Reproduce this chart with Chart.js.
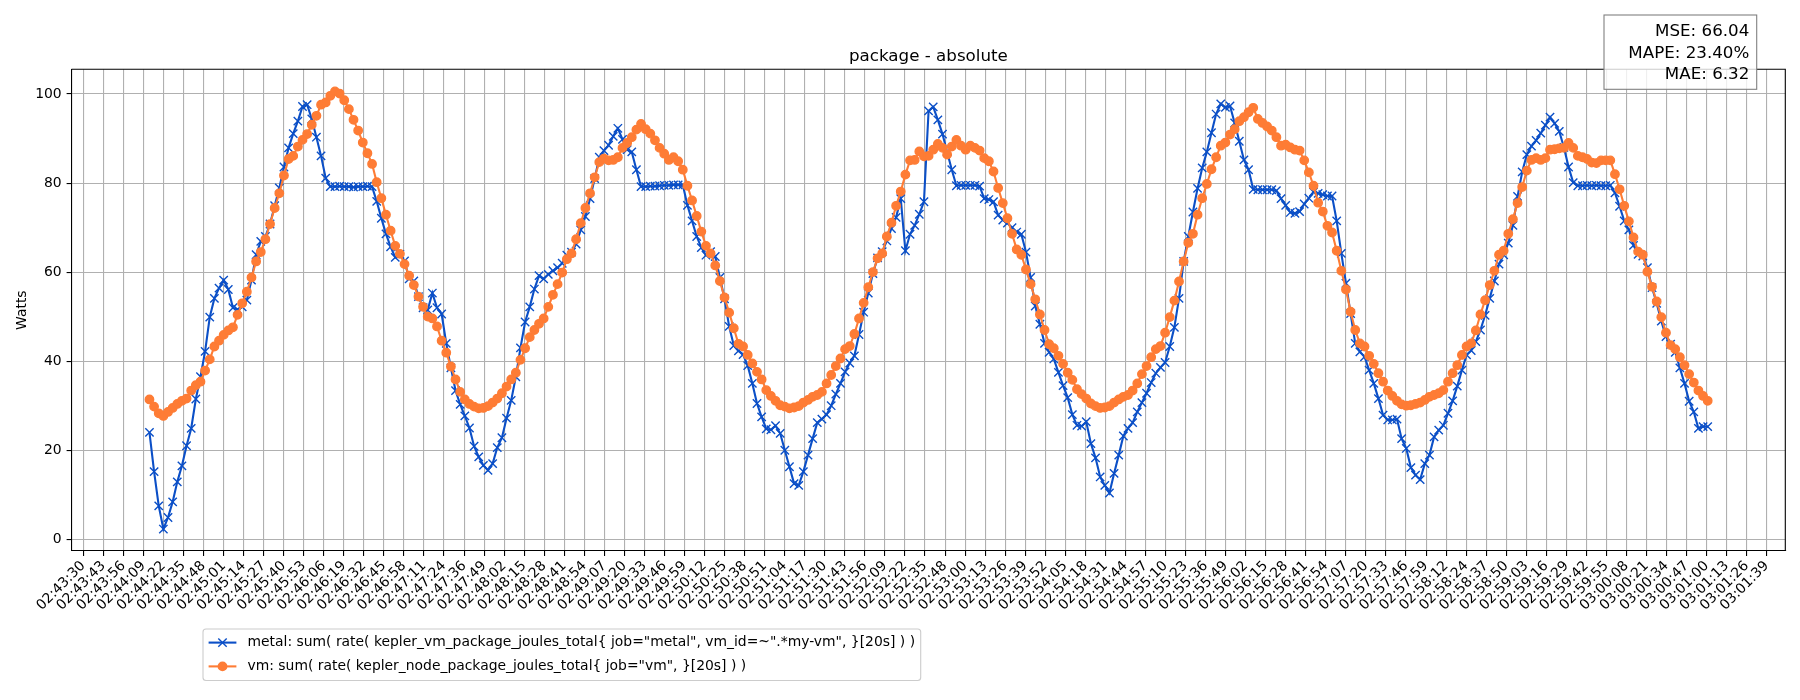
<!DOCTYPE html>
<html>
<head>
<meta charset="utf-8">
<title>package - absolute</title>
<script src="https://cdn.jsdelivr.net/npm/chart.js@4.4.1/dist/chart.umd.min.js"></script>
<style>
  html, body { margin: 0; padding: 0; background: #fff; }
  canvas { display: block; }
</style>
</head>
<body>
<canvas id="chart" width="1800" height="700" style="width:1800px;height:700px"></canvas>
<script>
// x tick labels (one tick every ~12.96 s starting at 02:43:30)
const tickLabels = [
  '02:43:30', '02:43:43', '02:43:56', '02:44:09', '02:44:22', '02:44:35', '02:44:48', '02:45:01',
  '02:45:14', '02:45:27', '02:45:40', '02:45:53', '02:46:06', '02:46:19', '02:46:32', '02:46:45',
  '02:46:58', '02:47:11', '02:47:24', '02:47:36', '02:47:49', '02:48:02', '02:48:15', '02:48:28',
  '02:48:41', '02:48:54', '02:49:07', '02:49:20', '02:49:33', '02:49:46', '02:49:59', '02:50:12',
  '02:50:25', '02:50:38', '02:50:51', '02:51:04', '02:51:17', '02:51:30', '02:51:43', '02:51:56',
  '02:52:09', '02:52:22', '02:52:35', '02:52:48', '02:53:00', '02:53:13', '02:53:26', '02:53:39',
  '02:53:52', '02:54:05', '02:54:18', '02:54:31', '02:54:44', '02:54:57', '02:55:10', '02:55:23',
  '02:55:36', '02:55:49', '02:56:02', '02:56:15', '02:56:28', '02:56:41', '02:56:54', '02:57:07',
  '02:57:20', '02:57:33', '02:57:46', '02:57:59', '02:58:12', '02:58:24', '02:58:37', '02:58:50',
  '02:59:03', '02:59:16', '02:59:29', '02:59:42', '02:59:55', '03:00:08', '03:00:21', '03:00:34',
  '03:00:47', '03:01:00', '03:01:13', '03:01:26', '03:01:39'
];
const tickSpanSec = 1089;          // 02:43:30 -> 03:01:39
const yTicks = [0, 20, 40, 60, 80, 100];

// samples: every 3 s, first one at 02:44:12.8
const sampleStartSec = 42.8;       // seconds after 02:43:30
const sampleStepSec = 3;

// metal: sum( rate( kepler_vm_package_joules_total ... ) )  [Watts]
const metalWatts = [
  24.0, 15.2, 7.5, 2.3, 4.9, 8.4, 12.9, 16.5, 21.0, 24.9, 31.5, 36.5, 42.2,
  49.9, 54.1, 56.4, 58.2, 56.1, 52.0, 51.6, 52.2,
  53.7, 58.2, 63.9, 66.9, 68.0, 70.8, 74.9, 78.9, 83.6, 87.9,
  91.1, 93.9, 97.2, 97.6, 94.4, 90.3, 86.1, 81.1,
  79.2, 79.2, 79.3, 79.2, 79.2, 79.1, 79.2, 79.2, 79.3, 79.2,
  75.9, 72.1, 68.6, 65.7, 63.3,
  64.0, 62.5, 58.5, 58.0, 54.5, 52.0, 51.5,
  55.3, 52.0, 50.6, 44.0, 38.5, 33.4, 30.3,
  27.7, 25.0, 20.9, 18.5, 16.6, 15.5, 17.0,
  20.6, 22.8, 27.2, 31.2, 36.5, 43.0,
  48.8, 52.2, 56.2, 59.2, 58.5, 59.5,
  60.3, 61.0, 62.0, 63.8, 64.5, 66.3, 69.5, 72.5, 76.5, 81.0,
  85.8, 87.3, 88.5, 90.5, 92.3, 89.8, 87.5, 87.0, 83.0, 79.2,
  79.2, 79.3, 79.3, 79.4, 79.5, 79.5, 79.6, 79.6, 79.6,
  75.0, 71.5, 68.0, 65.5, 63.8, 64.6, 63.5,
  58.8, 54.0, 47.8, 43.5, 42.3, 41.5, 39.0,
  35.0, 30.5, 27.5, 24.8, 24.6, 25.5, 23.8,
  20.0, 16.3, 12.5, 12.1, 15.2, 18.9, 22.6, 26.2,
  27.0, 28.0, 30.0, 32.6, 35.0, 37.6, 39.6, 41.2,
  46.0, 51.0, 55.3, 59.7, 63.2, 64.6, 67.0, 69.8, 72.3, 76.5,
  64.8, 68.5, 70.5, 73.0, 75.8,
  96.2, 97.1, 94.2, 91.0, 87.0, 83.0, 79.4,
  79.5, 79.5, 79.5, 79.5, 79.3, 76.5, 76.3, 75.8, 72.8,
  71.7, 71.0, 70.0, 69.0, 68.5, 64.5, 58.8, 52.4, 48.3, 44.0,
  42.0, 40.5, 37.5, 34.5, 31.8, 28.0, 25.6, 25.4, 26.4,
  21.5, 18.3, 14.0, 12.1, 10.4, 14.8, 18.9, 23.2,
  24.9, 26.2, 28.6, 30.7, 32.8, 35.2, 37.3, 38.6, 39.7,
  43.3, 47.6, 54.1, 62.4, 68.0, 73.5, 78.8, 83.4, 87.0, 91.3,
  95.5, 97.8, 97.0, 97.3, 93.5, 89.4, 85.2, 83.0,
  78.6, 78.5, 78.5, 78.5, 78.5, 78.3,
  76.5, 75.0, 73.4, 73.2, 73.6, 75.3, 76.6, 78.0, 77.7, 77.4, 77.1, 77.1,
  71.5, 64.2, 57.5, 50.7, 44.0, 42.1, 41.0,
  38.0, 35.0, 31.6, 27.9, 26.8, 26.8, 27.0,
  22.6, 20.4, 16.1, 14.4, 13.4, 17.0, 18.9, 23.0, 24.5, 25.6, 28.3,
  31.1, 34.4, 38.0, 41.4, 42.4, 44.4, 47.0, 50.3, 54.1, 58.0,
  61.8, 63.9, 66.5, 70.5, 77.0, 82.5, 86.4, 88.3, 89.6, 91.2,
  93.0, 94.8, 93.4, 91.6, 88.0, 83.6, 80.1, 79.4,
  79.4, 79.5, 79.4, 79.5, 79.4, 79.4, 79.5,
  77.8, 74.8, 71.5, 69.5, 66.0, 64.0, 63.6,
  61.0, 56.5, 53.0, 49.0, 45.5, 43.8, 42.0,
  38.5, 35.0, 31.0, 28.6, 24.9, 25.3, 25.3
];

// vm: sum( rate( kepler_node_package_joules_total ... ) )  [Watts]
const vmWatts = [
  31.4, 29.8, 28.3, 27.7, 28.6, 29.5, 30.4, 31.1, 31.6, 33.4,
  34.6, 35.4, 37.9, 40.4, 43.3, 44.6, 45.9, 46.9, 47.6, 50.4,
  53.0, 55.6, 58.8, 62.4, 64.5, 67.4, 70.8, 74.4, 77.7, 81.7,
  85.4, 86.1, 88.2, 89.7, 91.0, 93.1, 95.1, 97.6, 98.1, 99.6,
  100.6, 100.1, 98.6, 96.6, 94.2, 91.8, 89.1, 86.7, 84.3, 80.2,
  76.6, 72.9, 69.3, 65.9, 64.1, 61.8, 59.2, 57.1, 54.5, 52.2,
  50.0, 49.6, 47.8, 44.6, 41.9, 38.8, 35.9, 33.1, 31.4, 30.4,
  29.8, 29.4, 29.5, 29.9, 30.7, 31.6, 32.8, 34.3, 35.9, 37.4,
  40.3, 42.9, 45.4, 47.0, 48.4, 49.6, 52.2,
  54.9, 57.3, 59.9, 62.9, 64.2, 67.4, 71.0, 74.4, 77.7, 81.3,
  84.7, 85.5, 85.1, 85.2, 85.8, 87.9, 89.0, 90.3, 92.0, 93.3,
  92.1, 91.1, 89.6, 87.9, 86.6, 85.2, 85.8, 84.9, 83.0, 79.4,
  76.1, 72.6, 69.1, 65.9, 64.2, 61.5, 58.0, 54.3, 50.9, 47.4,
  43.9, 43.3, 41.4, 39.5, 37.6, 35.9, 33.5, 32.2, 31.1, 30.1,
  29.8, 29.4, 29.6, 29.9, 30.7, 31.3, 32.0, 32.4, 33.1, 35.0,
  36.9, 38.9, 40.6, 42.7, 43.4, 46.1, 49.6, 53.1, 56.6, 60.0,
  63.1, 64.2, 68.0, 71.1, 74.9, 78.1, 81.9, 85.1, 85.2, 87.1,
  86.0, 86.1, 87.5, 88.8, 87.9, 86.4, 88.2, 89.7, 88.4, 87.5,
  88.4, 87.9, 87.3, 85.6, 84.9, 82.6, 78.9,
  75.5, 72.1, 68.6, 65.1, 63.9, 60.6, 57.3, 53.9, 50.5, 47.0,
  43.8, 42.9, 41.2, 39.4, 37.4, 35.8, 33.7, 32.6, 31.6, 30.5,
  29.9, 29.5, 29.6, 29.9, 30.7, 31.4, 32.0, 32.4, 33.4, 35.0,
  37.1, 38.9, 40.9, 42.7, 43.4, 46.4, 49.9, 53.6, 57.9, 62.4,
  66.6, 68.6, 72.9, 76.6, 79.8, 83.1, 85.8, 88.4, 89.1, 90.9,
  92.1, 93.9, 94.8, 95.9, 96.9, 94.4, 93.5, 92.7, 91.8, 90.3,
  88.4, 88.6, 88.0, 87.5, 87.3, 85.1, 82.4, 79.4, 75.6, 73.6,
  70.4, 68.9, 64.8, 60.3, 56.1, 51.1, 47.0, 44.0, 43.3, 41.2,
  39.4, 37.3, 35.4, 33.4, 32.2, 31.1, 30.3, 30.0, 30.1, 30.4,
  30.7, 31.3, 32.0, 32.4, 32.8, 33.5, 35.4,
  37.3, 39.1, 41.4, 43.3, 44.0, 46.9, 50.5, 53.7, 57.1, 60.3,
  63.9, 64.8, 68.6, 71.9, 75.5, 79.1, 82.8, 85.2, 85.6, 85.2,
  85.6, 87.5, 87.6, 87.8, 87.9, 89.0, 87.9, 86.1, 85.8, 85.4,
  84.6, 84.5, 85.1, 85.1, 85.1, 82.0, 78.6, 74.9, 71.4, 67.8,
  64.6, 63.9, 60.1, 56.7, 53.4, 49.9, 46.4, 43.6, 42.7, 40.9,
  39.1, 37.1, 35.2, 33.4, 32.2, 31.1
];

const titleText = 'package - absolute';
const yAxisTitle = 'Watts';
const metalLabel = 'metal: sum( rate( kepler_vm_package_joules_total{ job="metal", vm_id=~".*my-vm", }[20s] ) )';
const vmLabel = 'vm: sum( rate( kepler_node_package_joules_total{ job="vm", }[20s] ) )';
const metricLines = ['MSE: 66.04', 'MAPE: 23.40%', 'MAE: 6.32'];

const BLUE = '#0b4fc7';
const ORANGE = '#fe7c35';
const FONT = '"DejaVu Sans", "Liberation Sans", sans-serif';

// 時刻(秒)とワットを組み合わせて点列にする
function toPoints(values) {
    return values.map((w, i) => ({ x: sampleStartSec + i * sampleStepSec, y: w }));
}

// x印マーカー
function drawCross(ctx, x, y, r, color) {
    ctx.strokeStyle = color;
    ctx.lineWidth = 1.4;
    ctx.beginPath();
    ctx.moveTo(x - r, y - r); ctx.lineTo(x + r, y + r);
    ctx.moveTo(x - r, y + r); ctx.lineTo(x + r, y - r);
    ctx.stroke();
}

// タイトル・枠線・凡例・誤差ボックスの描画
const extrasPlugin = {
    id: 'extras',
    afterDraw(chart) {
        const { ctx, chartArea: a } = chart;
        ctx.save();

        // 上と右の枠線
        ctx.strokeStyle = '#000';
        ctx.lineWidth = 1.1;
        ctx.beginPath();
        ctx.moveTo(a.left, a.top);
        ctx.lineTo(a.right, a.top);
        ctx.lineTo(a.right, a.bottom);
        ctx.stroke();

        // タイトル
        ctx.fillStyle = '#000';
        ctx.font = '16.7px ' + FONT;
        ctx.textAlign = 'center';
        ctx.textBaseline = 'alphabetic';
        ctx.fillText(titleText, (a.left + a.right) / 2, a.top - 8.3);

        // y軸ラベル
        ctx.save();
        ctx.translate(22, (a.top + a.bottom) / 2);
        ctx.rotate(-Math.PI / 2);
        ctx.font = '13.9px ' + FONT;
        ctx.textBaseline = 'middle';
        ctx.fillText(yAxisTitle, 0, 0);
        ctx.restore();

        // 誤差ボックス (右上)
        ctx.fillStyle = 'rgba(255,255,255,0.8)';
        ctx.fillRect(1604, 15, 152.7, 74.3);
        ctx.strokeStyle = '#808080';
        ctx.lineWidth = 1.1;
        ctx.strokeRect(1604, 15, 152.7, 74.3);
        ctx.fillStyle = '#000';
        ctx.font = '16.7px ' + FONT;
        ctx.textAlign = 'right';
        ctx.textBaseline = 'alphabetic';
        const baselines = [36, 57.7, 79.4];
        metricLines.forEach((t, i) => ctx.fillText(t, 1749.3, baselines[i]));

        // 凡例
        const lx = 203, ly = 629, lw = 717.7, lh = 51.5;
        ctx.fillStyle = 'rgba(255,255,255,0.8)';
        ctx.strokeStyle = '#cccccc';
        ctx.lineWidth = 1.1;
        ctx.beginPath();
        ctx.roundRect(lx, ly, lw, lh, 3);
        ctx.fill();
        ctx.stroke();

        const rows = [
            { label: metalLabel, color: BLUE, marker: 'x', y: ly + 13.6 },
            { label: vmLabel, color: ORANGE, marker: 'o', y: ly + 37.4 }
        ];
        rows.forEach(r => {
            ctx.strokeStyle = r.color;
            ctx.lineWidth = 2.1;
            ctx.beginPath();
            ctx.moveTo(lx + 5.6, r.y);
            ctx.lineTo(lx + 33.4, r.y);
            ctx.stroke();
            const mx = lx + 19.5;
            if (r.marker === 'x') {
                drawCross(ctx, mx, r.y, 4.2, r.color);
            } else {
                ctx.fillStyle = r.color;
                ctx.beginPath();
                ctx.arc(mx, r.y, 4.9, 0, Math.PI * 2);
                ctx.fill();
            }
            ctx.fillStyle = '#000';
            ctx.font = '13.9px ' + FONT;
            ctx.textAlign = 'left';
            ctx.textBaseline = 'middle';
            ctx.fillText(r.label, lx + 44.5, r.y);
        });

        ctx.restore();
    }
};

const canvas = document.getElementById('chart');

new Chart(canvas, {
    type: 'line',
    data: {
        datasets: [
            {
                label: metalLabel,
                data: toPoints(metalWatts),
                borderColor: BLUE,
                backgroundColor: BLUE,
                borderWidth: 2.1,
                pointStyle: 'crossRot',
                pointRadius: 5.9,
                pointBorderWidth: 1.4,
                pointBorderColor: BLUE,
                tension: 0,
                order: 1
            },
            {
                label: vmLabel,
                data: toPoints(vmWatts),
                borderColor: ORANGE,
                backgroundColor: ORANGE,
                borderWidth: 2.1,
                pointStyle: 'circle',
                pointRadius: 4.2,
                pointBorderWidth: 1.4,
                pointBorderColor: ORANGE,
                pointBackgroundColor: ORANGE,
                tension: 0,
                order: 0
            }
        ]
    },
    options: {
        responsive: false,
        animation: false,
        devicePixelRatio: 1,
        layout: { padding: { left: 0, right: 14.7, top: 69.3, bottom: 0 } },
        plugins: {
            legend: { display: false },
            tooltip: { enabled: false },
            title: { display: false }
        },
        scales: {
            x: {
                type: 'linear',
                min: -7.63,
                max: 1101.0,
                afterBuildTicks: scale => {
                    const step = tickSpanSec / (tickLabels.length - 1);
                    scale.ticks = tickLabels.map((_, k) => ({ value: k * step }));
                },
                afterFit: scale => { scale.height = 149; },
                ticks: {
                    autoSkip: false,
                    minRotation: 45,
                    maxRotation: 45,
                    padding: 2,
                    color: '#000',
                    font: { family: FONT, size: 13.9 },
                    callback: (v, i) => tickLabels[i]
                },
                grid: { color: '#b0b0b0', lineWidth: 1.1, tickColor: '#000', tickLength: 4.9 },
                border: { color: '#000', width: 1.1 }
            },
            y: {
                type: 'linear',
                min: -2.63,
                max: 105.55,
                afterBuildTicks: scale => {
                    scale.ticks = yTicks.map(v => ({ value: v }));
                },
                afterFit: scale => { scale.width = 71.5; },
                ticks: {
                    padding: 4.9,
                    color: '#000',
                    font: { family: FONT, size: 13.9 }
                },
                grid: { color: '#b0b0b0', lineWidth: 1.1, tickColor: '#000', tickLength: 4.9 },
                border: { color: '#000', width: 1.1 }
            }
        }
    },
    plugins: [extrasPlugin]
});
</script>
</body>
</html>
